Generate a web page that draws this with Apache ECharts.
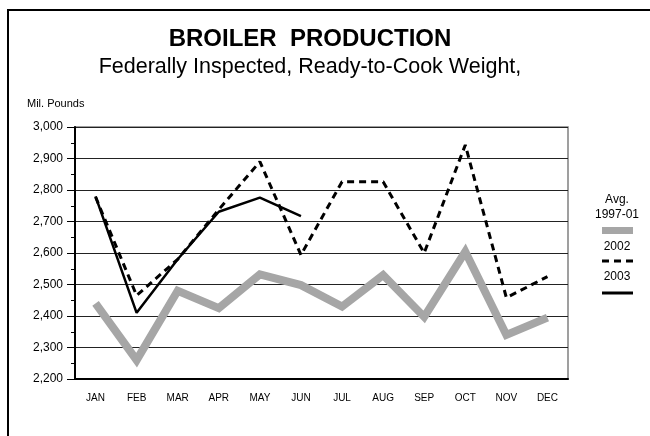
<!DOCTYPE html>
<html>
<head>
<meta charset="utf-8">
<script src="https://cdn.jsdelivr.net/npm/echarts@6/dist/echarts.min.js"></script>
<style>
    html, body { margin: 0; padding: 0; background: #fff; }
    #main { width: 650px; height: 436px; }
</style>
</head>
<body>
<div id="main"></div>
<script>
const FONT = 'Liberation Sans, Arial, sans-serif';

const months = ['JAN', 'FEB', 'MAR', 'APR', 'MAY', 'JUN', 'JUL', 'AUG', 'SEP', 'OCT', 'NOV', 'DEC'];
const avg9701 = [2440, 2260, 2480, 2425, 2532, 2498, 2430, 2530, 2397, 2604, 2340, 2395];
const y2002 = [2778, 2465, 2580, 2738, 2890, 2594, 2826, 2826, 2600, 2943, 2458, 2525];
const y2003 = [2780, 2410, 2580, 2731, 2776, 2717];

function withComma(v) {
    return String(v).replace(/\B(?=(\d{3})+(?!\d))/g, ',');
}

let chart = echarts.init(document.getElementById('main'));
let option;

option = {
    backgroundColor: '#fff',
    animation: false,
    title: {
        text: 'BROILER  PRODUCTION',
        subtext: 'Federally Inspected, Ready-to-Cook Weight,',
        left: 305,
        textAlign: 'center',
        top: 22,
        itemGap: 5,
        textStyle: {fontFamily: FONT, fontSize: 24, fontWeight: 'bold', color: '#000'},
        subtextStyle: {fontFamily: FONT, fontSize: 21.5, color: '#000'}
    },
    grid: {
        left: 75,
        right: 82,
        top: 127,
        bottom: 57,
        show: true,
        borderColor: '#808080',
        borderWidth: 1.5
    },
    xAxis: {
        type: 'category',
        data: months,
        boundaryGap: true,
        axisLine: {lineStyle: {color: '#000', width: 2}},
        axisTick: {alignWithLabel: true, length: 7, lineStyle: {color: '#000', width: 1}},
        axisLabel: {fontFamily: FONT, fontSize: 10, color: '#000', margin: 14}
    },
    yAxis: {
        type: 'value',
        min: 2200,
        max: 3000,
        interval: 100,
        name: 'Mil. Pounds',
        nameLocation: 'end',
        nameGap: 18,
        nameTextStyle: {fontFamily: FONT, fontSize: 11, color: '#000', align: 'left', padding: [0, 0, 0, -48]},
        axisLine: {show: true, lineStyle: {color: '#000', width: 2}},
        axisTick: {show: true, length: 8, lineStyle: {color: '#000'}},
        minorTick: {show: true, splitNumber: 2, length: 4, lineStyle: {color: '#000'}},
        splitLine: {lineStyle: {color: '#222', width: 1}},
        axisLabel: {fontFamily: FONT, fontSize: 12, color: '#000', margin: 12, formatter: withComma}
    },
    series: [
        {
            name: 'Avg. 1997-01',
            type: 'line',
            data: avg9701,
            showSymbol: false,
            lineStyle: {color: '#a6a6a6', width: 8, join: 'miter'}
        },
        {
            name: '2002',
            type: 'line',
            data: y2002,
            showSymbol: false,
            lineStyle: {color: '#000', width: 3, type: [7, 5]}
        },
        {
            name: '2003',
            type: 'line',
            data: y2003,
            showSymbol: false,
            lineStyle: {color: '#000', width: 2.5}
        }
    ],
    graphic: [
        // outer frame runs off the right and bottom edges
        {type: 'rect', shape: {x: 8, y: 10, width: 700, height: 500}, style: {fill: null, stroke: '#000', lineWidth: 2}, silent: true},
        // legend, text above each line sample
        {type: 'text', style: {text: 'Avg.', x: 617, y: 200, font: '12px ' + FONT, fill: '#000', align: 'center', verticalAlign: 'middle'}},
        {type: 'text', style: {text: '1997-01', x: 617, y: 215, font: '12px ' + FONT, fill: '#000', align: 'center', verticalAlign: 'middle'}},
        {type: 'line', shape: {x1: 602, y1: 230.5, x2: 633, y2: 230.5}, style: {stroke: '#a6a6a6', lineWidth: 7}},
        {type: 'text', style: {text: '2002', x: 617, y: 247, font: '12px ' + FONT, fill: '#000', align: 'center', verticalAlign: 'middle'}},
        {type: 'line', shape: {x1: 602, y1: 261, x2: 633, y2: 261}, style: {stroke: '#000', lineWidth: 3, lineDash: [7, 5]}},
        {type: 'text', style: {text: '2003', x: 617, y: 277, font: '12px ' + FONT, fill: '#000', align: 'center', verticalAlign: 'middle'}},
        {type: 'line', shape: {x1: 602, y1: 293, x2: 633, y2: 293}, style: {stroke: '#000', lineWidth: 3}}
    ]
};

option && chart.setOption(option);
</script>
</body>
</html>
